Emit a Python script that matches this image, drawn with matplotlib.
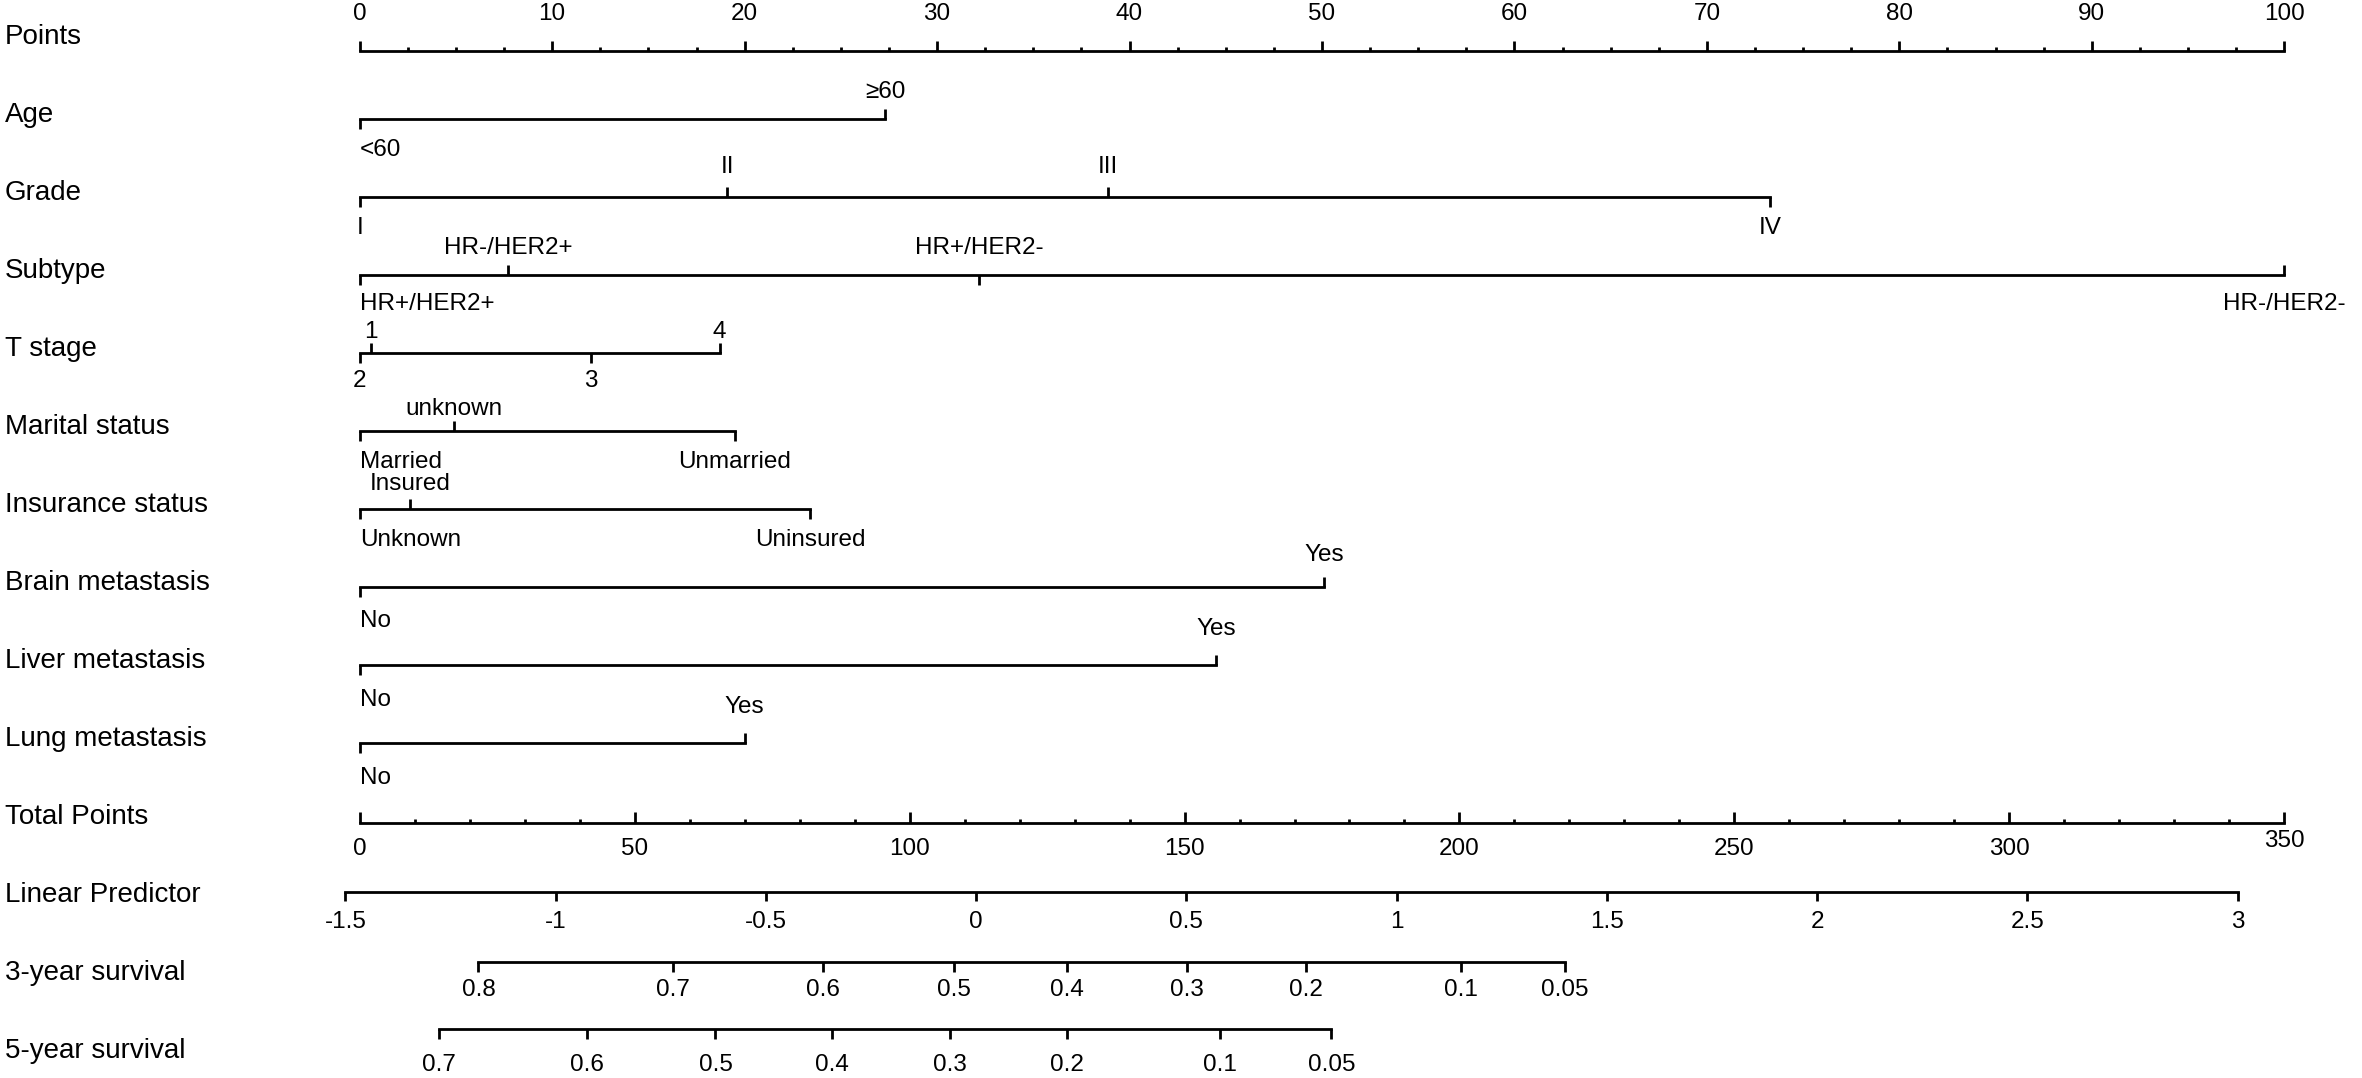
import matplotlib.pyplot as plt

plt.rcParams['font.family'] = ['Liberation Sans', 'DejaVu Sans']

# ---- data ----
row_names = ["Points", "Age", "Grade", "Subtype", "T stage", "Marital status",
             "Insurance status", "Brain metastasis", "Liver metastasis",
             "Lung metastasis", "Total Points", "Linear Predictor",
             "3-year survival", "5-year survival"]

age_levels = ["<60", "≥60"]
age_points = [0, 27.3]
grade_levels = ["I", "II", "III", "IV"]
grade_points = [0, 19.1, 38.9, 73.3]
subtype_levels = ["HR+/HER2+", "HR-/HER2+", "HR+/HER2-", "HR-/HER2-"]
subtype_points = [0, 7.7, 32.2, 100]
tstage_levels = ["2", "1", "3", "4"]
tstage_points = [0, 0.6, 12.0, 18.7]
marital_levels = ["Married", "unknown", "Unmarried"]
marital_points = [0, 4.9, 19.5]
insurance_levels = ["Unknown", "Insured", "Uninsured"]
insurance_points = [0, 2.6, 23.4]
brain_levels = ["No", "Yes"]
brain_points = [0, 50.1]
liver_levels = ["No", "Yes"]
liver_points = [0, 44.5]
lung_levels = ["No", "Yes"]
lung_points = [0, 20.0]

points_ticks = list(range(0, 101, 10))
total_ticks = list(range(0, 351, 50))
total_max = 350
lp_ticks = [-1.5, -1, -0.5, 0, 0.5, 1, 1.5, 2, 2.5, 3]
lp_labels = ["-1.5", "-1", "-0.5", "0", "0.5", "1", "1.5", "2", "2.5", "3"]
lp_intercept = -1.466     # linear predictor at 0 total points
lp_slope = 0.013077       # change per total point

surv3_labels = ["0.8", "0.7", "0.6", "0.5", "0.4", "0.3", "0.2", "0.1", "0.05"]
surv3_total = [21.6, 56.9, 84.3, 108.0, 128.7, 150.4, 172.0, 200.2, 219.2]
surv5_labels = ["0.7", "0.6", "0.5", "0.4", "0.3", "0.2", "0.1", "0.05"]
surv5_total = [14.5, 41.3, 64.7, 85.9, 107.3, 128.7, 156.4, 176.7]

# ---- layout (pixels) ----
W, H = 2362, 1078
x0_px, px_per_pt = 359.7, 19.246
row_y = [37 + 78 * i for i in range(14)]
LW = 2.0
TICK = 10
FS_ROW = 20
FS_TICK = 17.5

fig = plt.figure(figsize=(W / 100, H / 100), dpi=100)
ax = fig.add_axes([0, 0, 1, 1])
ax.set_xlim(-x0_px / px_per_pt, (W - x0_px) / px_per_pt)
ax.set_ylim(H, 0)
ax.axis("off")

for name, y in zip(row_names, row_y):
    ax.text(0.002, y, name, transform=ax.get_yaxis_transform(),
            ha="left", va="center", fontsize=FS_ROW)


def tick(x, y, direction, length=TICK):
    sign = -1 if direction == "up" else 1
    ax.plot([x, x], [y, y + sign * length], color="black", lw=LW,
            solid_capstyle="butt")


def hline(x1, x2, y):
    ax.plot([x1, x2], [y, y], color="black", lw=LW, solid_capstyle="projecting")


# Points axis
y = row_y[0] + 14
hline(0, 100, y)
for t in points_ticks:
    tick(t, y, "up")
    ax.text(t, y - 37, str(t), ha="center", va="center", fontsize=FS_TICK)
for k in range(0, 41):
    m = k * 2.5
    if m % 10:
        tick(m, y, "up", 4)

# categorical variables: levels, points, label side, tick side, (offset up, offset down)
variables = [
    (age_levels, age_points, ["down", "up"], ["down", "up"], (27, 31)),
    (grade_levels, grade_points, ["down", "up", "up", "down"],
     ["down", "up", "up", "down"], (30, 31)),
    (subtype_levels, subtype_points, ["down", "up", "up", "down"],
     ["down", "up", "down", "up"], (27, 29)),
    (tstage_levels, tstage_points, ["down", "up", "down", "up"],
     ["down", "up", "down", "up"], (21, 28)),
    (marital_levels, marital_points, ["down", "up", "down"],
     ["down", "up", "down"], (22, 31)),
    (insurance_levels, insurance_points, ["down", "up", "down"],
     ["down", "up", "down"], (25, 31)),
    (brain_levels, brain_points, ["down", "up"], ["down", "up"], (32, 34)),
    (liver_levels, liver_points, ["down", "up"], ["down", "up"], (36, 35)),
    (lung_levels, lung_points, ["down", "up"], ["down", "up"], (36, 35)),
]
for i, (levels, pts, lab_side, tick_side, (off_up, off_dn)) in enumerate(variables):
    y = row_y[i + 1] + 4
    hline(min(pts), max(pts), y)
    for lab, p, ls, ts in zip(levels, pts, lab_side, tick_side):
        tick(p, y, ts)
        ty = y - off_up if ls == "up" else y + off_dn
        ha = "left" if p == 0 and len(lab) > 1 else "center"
        ax.text(p, ty, lab, ha=ha, va="center", fontsize=FS_TICK)

# Total points axis
to_x = lambda tp: tp * 100 / total_max
y = row_y[10] + 6
hline(0, 100, y)
for t in total_ticks:
    tick(to_x(t), y, "up", 11)
    ax.text(to_x(t), y + 26 - (8 if t == total_max else 0), str(t),
            ha="center", va="center", fontsize=FS_TICK)
for m in range(0, total_max + 1, 10):
    if m % 50:
        tick(to_x(m), y, "up", 4)

# Linear predictor
lp_x = [to_x((v - lp_intercept) / lp_slope) for v in lp_ticks]
y = row_y[11] - 3
hline(lp_x[0], lp_x[-1], y)
for x, lab in zip(lp_x, lp_labels):
    tick(x, y, "down", 9)
    ax.text(x, y + 30, lab, ha="center", va="center", fontsize=FS_TICK)

# survival scales
for r, labels, tots, off in [(12, surv3_labels, surv3_total, 28),
                             (13, surv5_labels, surv5_total, 36)]:
    xs = [to_x(t) for t in tots]
    y = row_y[r] - (11 if r == 12 else 22)
    hline(xs[0], xs[-1], y)
    for x, lab in zip(xs, labels):
        tick(x, y, "down")
        ax.text(x, y + off, lab, ha="center", va="center", fontsize=FS_TICK)

fig.savefig("out.png", dpi=100, facecolor="white")
